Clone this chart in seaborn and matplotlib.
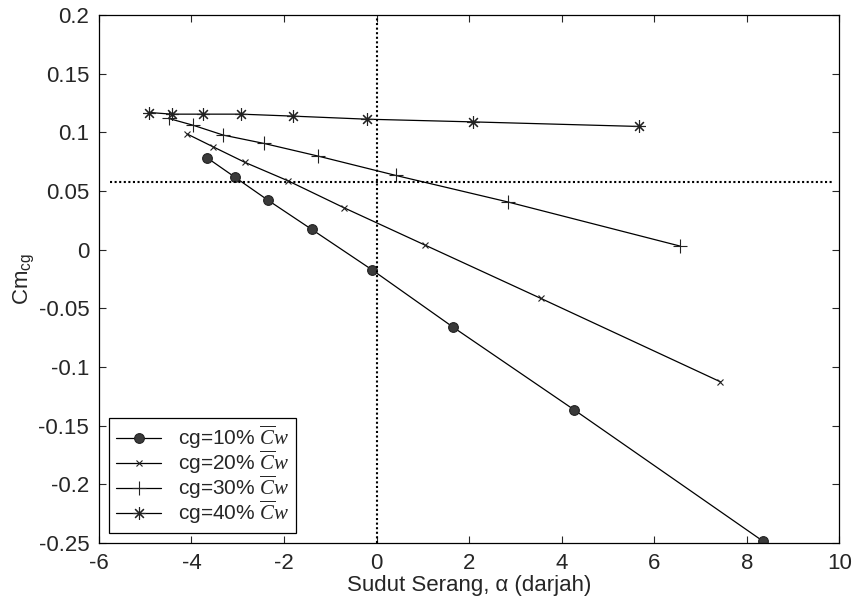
import numpy as np
import pandas as pd
import seaborn as sns
import matplotlib.pyplot as plt

# values
x_cg10 = [-3.66, -3.07, -2.35, -1.40, -0.10, 1.66, 4.27, 8.34]
y_cg10 = [0.0783, 0.0621, 0.0423, 0.0173, -0.0171, -0.0662, -0.1365, -0.2482]

x_cg20 = [-4.09, -3.53, -2.84, -1.91, -0.70, 1.05, 3.55, 7.43]
y_cg20 = [0.0986, 0.0877, 0.0744, 0.0587, 0.0357, 0.0039, -0.0415, -0.1126]

x_cg30 = [-4.49, -3.97, -3.31, -2.43, -1.26, 0.42, 2.83, 6.56]
y_cg30 = [0.1119, 0.1062, 0.0977, 0.0906, 0.0798, 0.0633, 0.0408, 0.0031]

x_cg40 = [-4.91, -4.43, -3.75, -2.93, -1.80, -0.21, 2.08, 5.67]
y_cg40 = [0.1170, 0.1156, 0.1156, 0.1156, 0.1139, 0.1113, 0.1090, 0.1051]

labels = [r"cg=10% $\overline{C}w$", r"cg=20% $\overline{C}w$",
          r"cg=30% $\overline{C}w$", r"cg=40% $\overline{C}w$"]

ref_y = 0.0576
ref_x = 0.0

x_ticks = [-6, -4, -2, 0, 2, 4, 6, 8, 10]
y_ticks = [-0.25, -0.2, -0.15, -0.1, -0.05, 0, 0.05, 0.1, 0.15, 0.2]

sns.set_style("ticks")
plt.rcParams["font.family"] = ["Liberation Sans", "DejaVu Sans"]
plt.rcParams["mathtext.fontset"] = "custom"
plt.rcParams["mathtext.rm"] = "Liberation Sans"
plt.rcParams["mathtext.it"] = "Liberation Serif:italic"
plt.rcParams["mathtext.sf"] = "Liberation Sans"

fig, ax = plt.subplots(figsize=(8.53, 6.06), dpi=100)
fig.subplots_adjust(left=0.116, right=0.984, top=0.975, bottom=0.104)

series = [(x_cg10, y_cg10), (x_cg20, y_cg20), (x_cg30, y_cg30), (x_cg40, y_cg40)]
markers = ["o", "x", "+", (8, 2, 0)]
msizes = [7, 5, 10, 9]

for (xs, ys), lab, m, ms in zip(series, labels, markers, msizes):
    df = pd.DataFrame({"alpha": xs, "cm": ys})
    sns.lineplot(data=df, x="alpha", y="cm", ax=ax, sort=False, estimator=None,
                 color="black", linewidth=0.9, marker=m, markersize=ms,
                 markerfacecolor="#3a3a3a", markeredgecolor="#222222",
                 markeredgewidth=0.8, label=lab)

# dotted reference lines
ax.axhline(ref_y, xmin=0.015, xmax=0.99, color="black", linestyle=(0, (1, 1.2)), linewidth=1.5)
ax.axvline(ref_x, color="black", linestyle=(0, (1, 1.2)), linewidth=1.5)

ax.set_xlim(-6, 10)
ax.set_ylim(-0.25, 0.2)
ax.set_xticks(x_ticks)
ax.set_yticks(y_ticks)
ax.set_xticklabels([f"{v:g}" for v in x_ticks])
ax.set_yticklabels([f"{v:g}" for v in y_ticks])
ax.tick_params(direction="in", top=True, right=True, labelsize=16, length=5, width=0.8, pad=7)
for s in ax.spines.values():
    s.set_visible(True)
    s.set_linewidth(0.9)
    s.set_color("black")

ax.set_xlabel("Sudut Serang, α (darjah)", fontsize=16, labelpad=1)
ax.set_ylabel(r"Cm$_{\mathrm{cg}}$", fontsize=16, labelpad=2)

leg = ax.legend(loc="lower left", fontsize=15, frameon=True, fancybox=False,
                edgecolor="black", framealpha=1, borderaxespad=0.5,
                handlelength=2.2, labelspacing=-0.1, borderpad=0.3)
leg.get_frame().set_linewidth(0.9)

plt.savefig("out.png", dpi=100)
